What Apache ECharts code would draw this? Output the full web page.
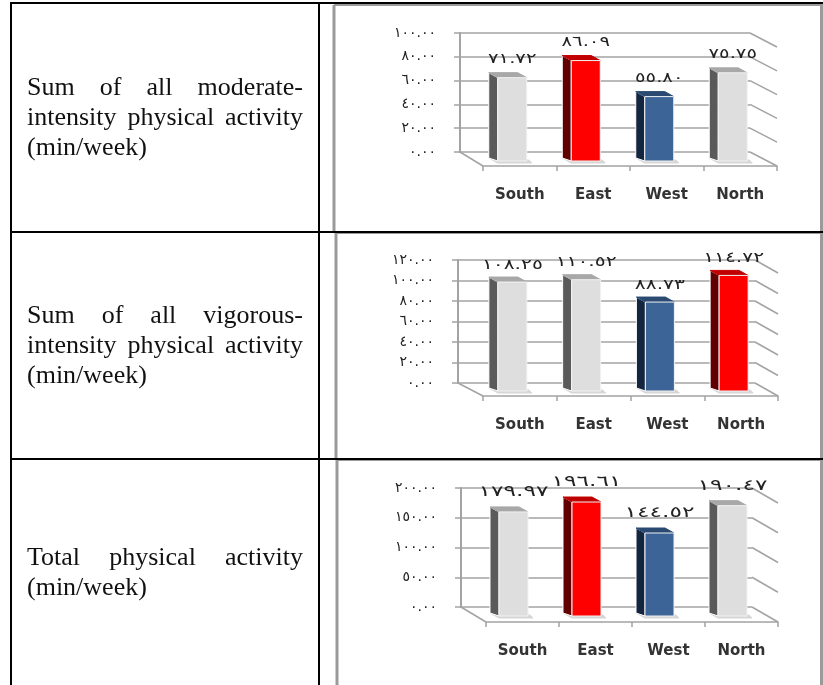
<!DOCTYPE html>
<html>
<head>
<meta charset="utf-8">
<style>
  html, body { margin: 0; padding: 0; background: #fff; }
  #chart { width: 823px; height: 685px; }
</style>
<script src="https://cdn.jsdelivr.net/npm/echarts@6/dist/echarts.min.js"></script>
</head>
<body>
<div id="chart"></div>
<script>
const categories = ["South", "East", "West", "North"];

const moderateValues = [71.72, 86.09, 55.8, 75.75];
const vigorousValues = [108.25, 110.52, 88.73, 114.72];
const totalValues = [179.97, 196.61, 144.52, 190.47];

const moderateTicks = [0, 20, 40, 60, 80, 100];
const vigorousTicks = [0, 20, 40, 60, 80, 100, 120];
const totalTicks = [0, 50, 100, 150, 200];

const moderateColors = ["grey", "red", "blue", "grey"];
const vigorousColors = ["grey", "grey", "blue", "red"];
const totalColors = ["grey", "red", "blue", "grey"];

const moderateText = ["Sum of all moderate-", "intensity physical activity", "(min/week)"];
const vigorousText = ["Sum of all vigorous-", "intensity physical activity", "(min/week)"];
const totalText = ["Total physical activity", "(min/week)"];

// face colours of the fake 3D bars
const palette = {
  grey: { front: "#dedede", side: "#5a5a5a", top: "#a8a8a8" },
  red: { front: "#ff0000", side: "#600000", top: "#c00000" },
  blue: { front: "#3c6496", side: "#14263f", top: "#2a4a72" },
};

const GRID_COLOR = "#a3a3a3";
const ARABIC_DIGITS = "٠١٢٣٤٥٦٧٨٩";
const toArabic = (v) =>
  v.toFixed(2).replace(/\d/g, (d) => ARABIC_DIGITS[Number(d)]);

// back wall + front floor edge of each panel, and the table cell around it
const panels = [
  {
    values: moderateValues, ticks: moderateTicks, colors: moderateColors,
    wall: { left: 460, right: 750, top: 33, bottom: 152 },
    front: { left: 483, right: 777, bottom: 166 },
    labelSize: 14, labelStretch: 1.4, labelGap: 18, shift: 0, lift: 5,
    text: moderateText, textY: 88,
    frame: { left: 334, top: 5, bottom: 232 },
  },
  {
    values: vigorousValues, ticks: vigorousTicks, colors: vigorousColors,
    wall: { left: 458, right: 755, top: 260, bottom: 383 },
    front: { left: 483, right: 778, bottom: 396 },
    labelSize: 14, labelStretch: 1.45, labelGap: 17, shift: 0, lift: 5,
    text: vigorousText, textY: 316,
    frame: { left: 336, top: 233, bottom: 459 },
  },
  {
    values: totalValues, ticks: totalTicks, colors: totalColors,
    wall: { left: 461, right: 752, top: 488, bottom: 607 },
    front: { left: 486, right: 778, bottom: 622 },
    labelSize: 15, labelStretch: 1.55, labelGap: 20, shift: -1.5, lift: 6,
    text: totalText, textY: 558,
    frame: { left: 337, top: 460, bottom: 690 },
  },
];

const W = 823, H = 685;

const grid = [], xAxis = [], yAxis = [], series = [];

panels.forEach((p, idx) => {
  const back = idx * 2;
  const front = idx * 2 + 1;
  const max = p.ticks[p.ticks.length - 1];
  const interval = p.ticks[1] - p.ticks[0];
  const depthY = p.front.bottom - p.wall.bottom;

  // back wall grid: value labels and horizontal lines
  grid.push({
    left: p.wall.left, top: p.wall.top,
    width: p.wall.right - p.wall.left, height: p.wall.bottom - p.wall.top,
  });
  xAxis.push({
    gridIndex: back, type: "category", data: categories,
    axisLine: { show: false }, axisTick: { show: false }, axisLabel: { show: false },
  });
  yAxis.push({
    gridIndex: back, type: "value", min: 0, max: max, interval: interval,
    axisLine: { show: true, lineStyle: { color: GRID_COLOR, width: 2 } },
    axisTick: { show: true, length: 6, lineStyle: { color: GRID_COLOR, width: 1.5 } },
    axisLabel: {
      fontFamily: "DejaVu Sans", fontSize: 14, color: "#222", margin: 24,
      formatter: (v) => toArabic(v),
    },
    splitLine: { show: true, lineStyle: { color: GRID_COLOR, width: 1.5 } },
  });

  // front grid: categories on the floor edge, bars stand on this one
  grid.push({
    left: p.front.left, top: p.wall.top + depthY,
    width: p.front.right - p.front.left, height: p.wall.bottom - p.wall.top,
  });
  xAxis.push({
    gridIndex: front, type: "category", data: categories,
    axisLine: { lineStyle: { color: GRID_COLOR, width: 1.5 } },
    axisTick: { show: true, length: 5, lineStyle: { color: GRID_COLOR, width: 1.5 } },
    axisLabel: {
      fontFamily: "DejaVu Sans", fontSize: 15, fontWeight: "bold", color: "#333", margin: 22,
    },
  });
  yAxis.push({
    gridIndex: front, type: "value", min: 0, max: max, interval: interval, show: false,
    splitLine: { show: false },
  });

  // diagonals on the right wall and the left floor edge
  series.push({
    type: "custom", xAxisIndex: front, yAxisIndex: front, silent: true, z: 1,
    data: p.ticks.map((t) => [0, t]),
    renderItem: (params, api) => {
      const y = api.coord([0, api.value(1)])[1];
      const cs = params.coordSys;
      const dx = p.front.right - p.wall.right;
      const lineStyle = { stroke: GRID_COLOR, lineWidth: 1.5 };
      const children = [{
        type: "line",
        shape: { x1: cs.x + cs.width, y1: y, x2: cs.x + cs.width - dx, y2: y - depthY },
        style: lineStyle,
      }];
      if (api.value(1) === 0) {
        children.push({
          type: "line",
          shape: { x1: cs.x, y1: y, x2: p.wall.left, y2: y - depthY },
          style: lineStyle,
        });
      }
      return { type: "group", children: children };
    },
  });

  // bars: front face, side face, top face and the number above
  series.push({
    type: "custom", xAxisIndex: front, yAxisIndex: front, silent: true, z: 3,
    data: p.values.map((v, i) => [i, v]),
    renderItem: (params, api) => {
      const i = api.value(0);
      const v = api.value(1);
      const c = palette[p.colors[i]];
      const centre = api.coord([i, v])[0] + p.shift;
      const top = api.coord([i, v])[1] - 3;
      const base = api.coord([i, 0])[1] - p.lift;
      const l = centre - 22, r = centre + 7;
      const dx = -9, dy = -5;
      const poly = (points, fill, stroke) => ({
        type: "polygon", shape: { points: points },
        style: { fill: fill, stroke: stroke || fill, lineWidth: 1 },
      });
      return {
        type: "group",
        children: [
          poly([[l + dx, base + dy + 2], [l, base + 2], [r + 5, base + 2], [r + 2, base - 1]], "#d6d6d6"),
          poly([[l, top], [l + dx, top + dy], [l + dx, base + dy + 2], [l, base]], c.side, "#ffffff"),
          poly([[l, top], [l + dx, top + dy], [r + dx, top + dy], [r, top]], c.top),
          poly([[l, top], [r, top], [r, base], [l, base]], c.front, "#f2f2f2"),
          {
            type: "text", z2: 10,
            x: centre - 7.5, y: top - p.labelGap, scaleX: p.labelStretch,
            style: {
              text: toArabic(v), x: 0, y: 0,
              align: "center", verticalAlign: "middle",
              font: p.labelSize + "px 'DejaVu Sans'", fill: "#222",
            },
          },
        ],
      };
    },
  });
});

// table rules, gray chart frames and the justified row headings
const TEXT_LEFT = 27, TEXT_RIGHT = 303, TEXT_LEAD = 30;
const TEXT_FONT = "26px 'Liberation Serif'";
const ctx = document.createElement("canvas").getContext("2d");
ctx.font = TEXT_FONT;

const graphic = [];
const addRule = (x1, y1, x2, y2, color, width) =>
  graphic.push({
    type: "line", silent: true, z: 20,
    shape: { x1, y1, x2, y2 },
    style: { stroke: color, lineWidth: width },
  });
const addWord = (text, x, y) =>
  graphic.push({
    type: "text", silent: true, z: 20,
    style: { text, x, y, font: TEXT_FONT, fill: "#111", verticalAlign: "middle" },
  });

panels.forEach((p) => {
  addRule(p.frame.left, p.frame.top, p.frame.left, p.frame.bottom, "#9a9a9a", 3);
  addRule(p.frame.left, p.frame.top, W, p.frame.top, "#9a9a9a", 2);
  addRule(821.5, p.frame.top, 821.5, p.frame.bottom, "#9a9a9a", 3);

  p.text.forEach((line, n) => {
    const y = p.textY + n * TEXT_LEAD;
    const words = line.split(" ");
    if (n === p.text.length - 1) {
      addWord(line, TEXT_LEFT, y);
      return;
    }
    const used = words.reduce((s, w) => s + ctx.measureText(w).width, 0);
    const gap = (TEXT_RIGHT - TEXT_LEFT - used) / (words.length - 1);
    let x = TEXT_LEFT;
    words.forEach((w) => {
      addWord(w, x, y);
      x += ctx.measureText(w).width + gap;
    });
  });
});

addRule(11, 3, W, 3, "#000", 2);
addRule(11, 232, W, 232, "#000", 2);
addRule(11, 459, W, 459, "#000", 2);
addRule(11, 2, 11, H, "#000", 2);
addRule(319, 2, 319, H, "#000", 2);

const chart = echarts.init(document.getElementById("chart"), null, { renderer: "canvas" });
chart.setOption({
  animation: false,
  backgroundColor: "#fff",
  tooltip: { show: false },
  grid, xAxis, yAxis, series, graphic,
});
</script>
</body>
</html>
